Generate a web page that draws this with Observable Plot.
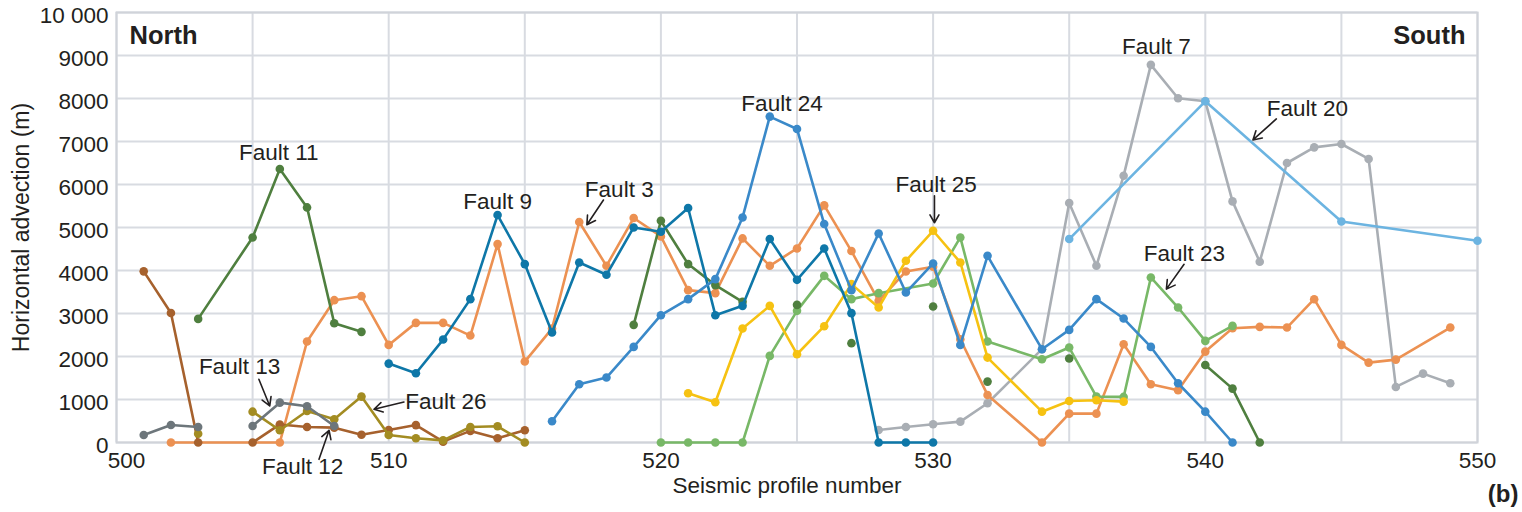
<!DOCTYPE html>
<html>
<head>
<meta charset="utf-8">
<script src="https://cdn.jsdelivr.net/npm/d3@7"></script>
<script src="https://cdn.jsdelivr.net/npm/@observablehq/plot@0.6"></script>
<style>
  html, body { margin: 0; padding: 0; background: #fff; }
  #chart { width: 1522px; height: 512px; overflow: hidden; }
</style>
</head>
<body>
<div id="chart"></div>
<script>
// ---- Data: [seismic profile number, horizontal advection (m)] ----
const fault12North = [[501, 3980], [502, 3010], [503, 0]];
const fault12 = [[505, 0], [506, 420], [507, 360], [508, 345], [509, 180], [510, 290], [511, 405], [512, 20], [513, 270], [514, 100], [515, 285]];
const fault26Dot = [[503, 205]];
const fault26 = [[505, 717], [506, 285], [507, 733], [508, 540], [509, 1067], [510, 175], [511, 98], [512, 50], [513, 361], [514, 377], [515, 0]];
const fault13North = [[501, 175], [502, 407], [503, 361]];
const fault13 = [[505, 384], [506, 927], [507, 843], [508, 384]];
const fault11 = [[503, 2875], [505, 4769], [506, 6361], [507, 5467], [508, 2775], [509, 2573]];
const fault3 = [[502, 0], [506, 0], [507, 2348], [508, 3310], [509, 3403], [510, 2270], [511, 2782], [512, 2782], [513, 2487], [514, 4614], [515, 1882], [516, 2650], [517, 5127], [518, 4109], [519, 5220], [520, 4792], [521, 3543], [522, 3473], [523, 4746], [524, 4109], [525, 4513], [526, 5514], [527, 4452], [528, 3295], [529, 3978], [530, 4086], [531, 2400], [532, 1106], [534, 0], [535, 671], [536, 671], [537, 2286], [538, 1355], [539, 1215], [540, 2114], [541, 2658], [542, 2689], [543, 2673], [544, 3333], [545, 2270], [546, 1858], [547, 1928], [549, 2673]];
const fault9 = [[510, 1835], [511, 1611], [512, 2394], [513, 3334], [514, 5290], [515, 4149], [516, 2557], [517, 4187], [518, 3900], [519, 5001], [520, 4901], [521, 5453], [522, 2961], [523, 3178], [524, 4731], [525, 3783], [526, 4513], [527, 3008], [528, 0], [529, 0], [530, 0]];
const fault24 = [[516, 493], [517, 1355], [518, 1510], [519, 2223], [520, 2961], [521, 3334], [522, 3800], [523, 5234], [524, 7579], [525, 7292], [526, 5080], [527, 3543], [528, 4862], [529, 3488], [530, 4164], [531, 2270], [532, 4342], [534, 2170], [535, 2619], [536, 3334], [537, 2883], [538, 2223], [539, 1378], [540, 717], [541, 0]];
const fault25 = [[521, 1145], [522, 936], [523, 2650], [524, 3178], [525, 2053], [526, 2705], [527, 3683], [528, 3139], [529, 4226], [530, 4924], [531, 4187], [532, 1975], [534, 717], [535, 966], [536, 982], [537, 950]];
const fault23 = [[520, 0], [521, 0], [522, 0], [523, 0], [524, 2014], [525, 3062], [526, 3876], [527, 3334], [528, 3473], [530, 3698], [531, 4769], [532, 2348], [534, 1937], [535, 2208], [536, 1067], [537, 1060], [538, 3838], [539, 3139], [540, 2363], [541, 2712]];
const darkGreenMid = [[519, 2736], [520, 5157], [521, 4149], [522, 3660], [523, 3271]];
const darkGreenDots = [[525, 3201], [527, 2310], [530, 3162], [532, 1416], [535, 1952]];
const darkGreenSouth = [[540, 1804], [541, 1253], [542, 0]];
const fault7 = [[528, 291], [529, 361], [530, 423], [531, 485], [532, 912], [534, 2170], [535, 5569], [536, 4109], [537, 6205], [538, 8782], [539, 8005], [540, 7935], [541, 5607], [542, 4203], [543, 6500], [544, 6864], [545, 6942], [546, 6594], [547, 1292], [548, 1602], [549, 1378]];
const fault20 = [[535, 4731], [540, 7935], [545, 5141], [550, 4692]];

// Annotations (data coordinates): label text, label x, label baseline y
const labelNames = ["Fault 11", "Fault 9", "Fault 3", "Fault 24", "Fault 25", "Fault 7", "Fault 20", "Fault 23", "Fault 13", "Fault 26", "Fault 12"];
const labelX = [505.96, 514.0, 518.47, 524.45, 530.11, 538.2, 543.75, 539.23, 504.52, 512.1, 506.84];
const labelY = [6577, 5437, 5716, 7718, 5816, 9045, 7602, 4226, 1588, 787, -740];
// Arrows: [x1, y1, x2, y2]
const arrowLines = [
  [517.89, 5639, 517.28, 5064],
  [530.05, 5739, 530.05, 5110],
  [542.61, 7525, 541.75, 7036],
  [539.22, 4144, 538.57, 3567],
  [505.23, 1471, 505.63, 850],
  [510.56, 943, 509.46, 773],
  [507.44, -391, 507.81, 284]
];

const xTicks = [500, 510, 520, 530, 540, 550];
const xGrid = [500, 505, 510, 515, 520, 525, 530, 535, 540, 545, 550];
const yTicks = [0, 1000, 2000, 3000, 4000, 5000, 6000, 7000, 8000, 9000, 10000];

// ---- Series table (draw order bottom -> top) ----
const series = [
  {data: fault7, color: "#a9aeb4", line: true},
  {data: fault20, color: "#6cb4e1", line: true},
  {data: fault3, color: "#ec9152", line: true},
  {data: fault23, color: "#78b867", line: true},
  {data: fault25, color: "#f6c212", line: true},
  {data: fault11, color: "#4f7f3f", line: true},
  {data: darkGreenMid, color: "#4f7f3f", line: true},
  {data: darkGreenSouth, color: "#4f7f3f", line: true},
  {data: darkGreenDots, color: "#4f7f3f", line: false},
  {data: fault9, color: "#0e77a8", line: true},
  {data: fault24, color: "#3a89c9", line: true},
  {data: fault12North, color: "#a6612d", line: true},
  {data: fault12, color: "#a6612d", line: true},
  {data: fault26Dot, color: "#a38c22", line: false},
  {data: fault26, color: "#a38c22", line: true},
  {data: fault13North, color: "#6d767b", line: true},
  {data: fault13, color: "#6d767b", line: true}
];

const font = "'Liberation Sans', Arial, Helvetica, sans-serif";
const ink = "#231f20";
const gridColor = "#d8dbe1";

const dataMarks = [];
for (const s of series) {
  if (s.line) {
    dataMarks.push(Plot.line(s.data, {x: d => d[0], y: d => d[1], stroke: s.color, strokeWidth: 2.6, strokeLinejoin: "round"}));
  }
  dataMarks.push(Plot.dot(s.data, {x: d => d[0], y: d => d[1], fill: s.color, r: 4.3}));
}

const labels = labelNames.map((t, i) => ({t, x: labelX[i], y: labelY[i]}));

const chart = Plot.plot({
  width: 1522,
  height: 512,
  marginTop: 12,
  marginBottom: 70,
  marginLeft: 116,
  marginRight: 45,
  style: {fontFamily: font, fontSize: "22.5px", color: ink, background: "#fff", overflow: "visible"},
  x: {domain: [500, 550]},
  y: {domain: [0, 10000]},
  marks: [
    Plot.gridX(xGrid, {stroke: gridColor, strokeOpacity: 1, strokeWidth: 2}),
    Plot.gridY(yTicks, {stroke: gridColor, strokeOpacity: 1, strokeWidth: 2}),
    Plot.frame({stroke: "#d0d3d9", strokeWidth: 2}),
    Plot.axisX(xTicks.filter(d => d !== 500), {tickSize: 0, tickPadding: 10, fontSize: 22.5, fill: ink, label: null}),
    Plot.axisX([500], {tickSize: 0, tickPadding: 10, dx: 10, fontSize: 22.5, fill: ink, label: null}),
    Plot.axisY(yTicks, {tickSize: 0, tickPadding: 8, dy: 3, fontSize: 22.5, fill: ink, label: null,
      tickFormat: d => d === 10000 ? "10 000" : String(d)}),
    Plot.text(["Horizontal advection (m)"], {frameAnchor: "left", dx: -95, rotate: -90, textAnchor: "middle", fontSize: 23, fill: ink}),
    Plot.text(["Seismic profile number"], {frameAnchor: "bottom", dx: -10, dy: 50.5, lineAnchor: "bottom", textAnchor: "middle", fontSize: 22.5, fill: ink}),
    Plot.text(["(b)"], {frameAnchor: "bottom-right", dx: 41, dy: 59, textAnchor: "end", lineAnchor: "bottom", fontSize: 24, fontWeight: "bold", fill: ink}),
    Plot.text(["North"], {frameAnchor: "top-left", dx: 13, dy: 31, textAnchor: "start", lineAnchor: "bottom", fontSize: 25.5, fontWeight: "bold", fill: ink}),
    Plot.text(["South"], {frameAnchor: "top-right", dx: -12, dy: 31, textAnchor: "end", lineAnchor: "bottom", fontSize: 25.5, fontWeight: "bold", fill: ink}),
    ...dataMarks,
    Plot.arrow(arrowLines, {x1: d => d[0], y1: d => d[1], x2: d => d[2], y2: d => d[3], stroke: ink, strokeWidth: 1.6, headLength: 9, clip: false}),
    Plot.text(labels, {x: "x", y: "y", text: "t", lineAnchor: "bottom", fontSize: 22.5, fill: ink, clip: false})
  ]
});

document.getElementById("chart").appendChild(chart);
</script>
</body>
</html>
